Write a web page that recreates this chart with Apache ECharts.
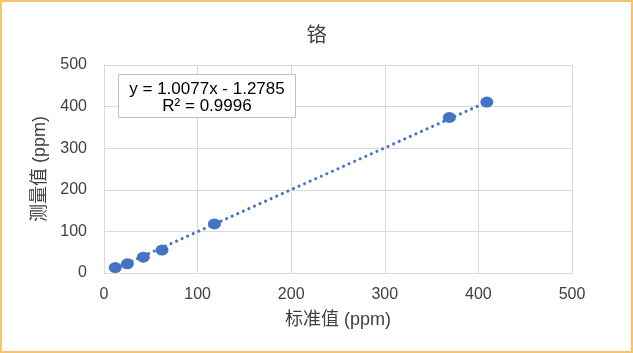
<!DOCTYPE html>
<html>
<head>
<meta charset="utf-8">
<script src="https://cdn.jsdelivr.net/npm/echarts@6/dist/echarts.min.js"></script>
<style>
  html, body { margin: 0; padding: 0; background: #fff; }
  #frame { position: absolute; left: 0; top: 0; width: 629px; height: 349px; border: 2px solid #f4c46a; }
  #chart { width: 633px; height: 353px; position: absolute; left: 0; top: 0; }
</style>
</head>
<body>
<div id="chart"></div>
<div id="frame"></div>
<script>
// 标准值 / 测量值 (ppm)
const standardValues = [12, 25, 42, 62, 118, 369, 409];
const measuredValues = [13, 22, 38, 55, 118, 374, 411];
// 趋势线参数
const slope = 1.0077;
const intercept = -1.2785;
const rSquared = 0.9996;
const axisTicks = [0, 100, 200, 300, 400, 500];

const font = "'Liberation Sans', 'Noto Sans CJK SC', sans-serif";
const textColor = "#404040";

const points = standardValues.map((x, i) => [x, measuredValues[i]]);
const xMin = Math.min(...standardValues);
const xMax = Math.max(...standardValues);
const trend = [xMin, xMax].map((x) => [x, slope * x + intercept]);

const chart = echarts.init(document.getElementById("chart"));

const axisCommon = {
  type: "value",
  min: axisTicks[0],
  max: axisTicks[axisTicks.length - 1],
  interval: 100,
  nameLocation: "middle",
  nameTextStyle: { fontFamily: font, fontSize: 18, color: textColor },
  axisLine: { show: true, lineStyle: { color: "#d9d9d9" } },
  axisTick: { show: false },
  splitLine: { show: true, lineStyle: { color: "#d9d9d9" } },
  axisLabel: { fontFamily: font, fontSize: 16, color: textColor },
};

chart.setOption({
  animation: false,
  title: {
    text: "铬",
    left: "center",
    top: 21,
    textStyle: { fontFamily: font, fontSize: 20, fontWeight: "normal", color: textColor },
  },
  grid: { left: 104, right: 61, top: 65, bottom: 80 },
  xAxis: Object.assign({}, axisCommon, {
    name: "标准值 (ppm)",
    nameGap: 38,
    axisLabel: Object.assign({}, axisCommon.axisLabel, { margin: 14 }),
  }),
  yAxis: Object.assign({}, axisCommon, {
    name: "测量值 (ppm)",
    nameGap: 40,
    axisLabel: Object.assign({}, axisCommon.axisLabel, { margin: 17 }),
  }),
  series: [
    {
      type: "line",
      data: trend,
      symbol: "none",
      lineStyle: { color: "#4472c4", width: 3, type: [0.1, 6], cap: "round" },
      z: 1,
    },
    {
      type: "scatter",
      data: points,
      symbol: "circle",
      symbolSize: [13, 11],
      itemStyle: { color: "#4472c4", opacity: 1 },
      z: 2,
    },
  ],
  graphic: [
    {
      type: "group",
      left: 118,
      top: 74,
      z: 100,
      children: [
        {
          type: "rect",
          z: 100,
          shape: { x: 0, y: 0, width: 177, height: 43 },
          style: { fill: "#fff", stroke: "#bfbfbf", lineWidth: 1 },
        },
        {
          type: "text",
          z: 101,
          x: 88.5,
          y: 6,
          style: {
            text: "y = " + slope.toFixed(4) + "x - " + Math.abs(intercept).toFixed(4) + "\nR² = " + rSquared.toFixed(4),
            align: "center",
            fontFamily: font,
            fontSize: 17,
            lineHeight: 17,
            fill: "#000",
          },
        },
      ],
    },
  ],
});
</script>
</body>
</html>
